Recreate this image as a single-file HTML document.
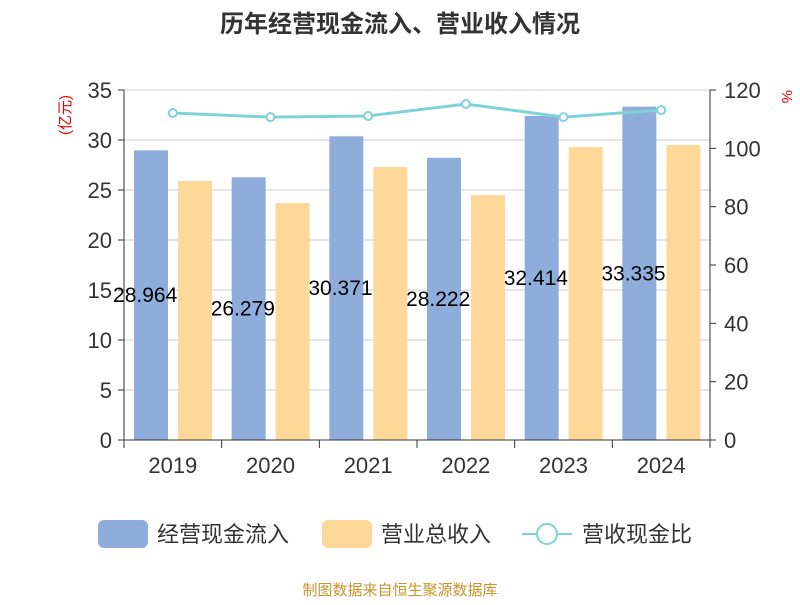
<!DOCTYPE html>
<html><head><meta charset="utf-8"><style>
body{margin:0;background:#fff;font-family:"Liberation Sans","Noto Sans CJK SC",sans-serif;}
</style></head><body>
<svg width="800" height="600" xmlns="http://www.w3.org/2000/svg" font-family="'Liberation Sans','Noto Sans CJK SC',sans-serif">
<text x="400" y="32" text-anchor="middle" font-size="24" font-weight="bold" fill="#333">历年经营现金流入、营业收入情况</text>
<text transform="translate(70,115) rotate(-90)" text-anchor="middle" font-size="15" fill="#e00">(亿元)</text>
<text transform="translate(782,90) rotate(90)" font-size="15" fill="#e00">%</text>
<g id="grid"></g><g id="bars1"></g><g id="labels"></g><g id="bars2"></g><g id="axes"></g><g id="line"></g>
<g>
<rect x="98" y="520" width="50" height="28" rx="6" fill="#8eaddb"/>
<text x="157" y="542" font-size="22" fill="#333">经营现金流入</text>
<rect x="322" y="520" width="50" height="28" rx="6" fill="#fed898"/>
<text x="381" y="542" font-size="22" fill="#333">营业总收入</text>
<line x1="522" y1="534" x2="572" y2="534" stroke="#7fd3d8" stroke-width="2"/>
<circle cx="547" cy="534" r="10" fill="#fff" stroke="#7fd3d8" stroke-width="2"/>
<text x="582" y="542" font-size="22" fill="#333">营收现金比</text>
</g>
<text x="400" y="595" text-anchor="middle" font-size="15" fill="#c8952a">制图数据来自恒生聚源数据库</text>
</svg>
<script>
const categories=["2019","2020","2021","2022","2023","2024"];
const cashInflow=[28.9641,26.2795,30.3712,28.2227,32.4145,33.3356];
const revenue=[25.9,23.7,27.3,24.5,29.3,29.5];
const ratio=[112.1,110.7,111.1,115.2,110.7,113.1];
const leftTicks=[0,5,10,15,20,25,30,35];
const rightTicks=[0,20,40,60,80,100,120];
const NS="http://www.w3.org/2000/svg";
const X0=124,X1=710,Y0=440,Y1=90;
const bw=(X1-X0)/categories.length;
const yL=v=>Y0-(v/35)*(Y0-Y1);
const yR=v=>Y0-(v/120)*(Y0-Y1);
function mk(t,a,p){const e=document.createElementNS(NS,t);for(const k in a)e.setAttribute(k,a[k]);document.getElementById(p).appendChild(e);return e;}
leftTicks.forEach(t=>{
 if(t>0){const g=mk('line',{x1:X0,x2:X1,y1:yL(t),y2:yL(t),stroke:'#ccc'},'grid');
 
 }
 const tl=mk('text',{x:X0-12,y:yL(t)+8,'text-anchor':'end','font-size':22,fill:'#333'},'axes');tl.textContent=t;
 
 
 mk('line',{x1:X0-6,x2:X0,y1:yL(t),y2:yL(t),stroke:'#333'},'axes');
});
rightTicks.forEach(t=>{
 const tl=mk('text',{x:X1+14,y:yR(t)+8,'font-size':22,fill:'#333'},'axes');tl.textContent=t;
 
 
 mk('line',{x1:X1,x2:X1+6,y1:yR(t),y2:yR(t),stroke:'#333'},'axes');
});
let ax=mk('line',{x1:X0,x2:X0,y1:Y1,y2:Y0,stroke:'#333'},'axes');


ax=mk('line',{x1:X1,x2:X1,y1:Y1,y2:Y0,stroke:'#333'},'axes');


ax=mk('line',{x1:X0,x2:X1,y1:Y0,y2:Y0,stroke:'#333'},'axes');


let pts=[];
categories.forEach((c,i)=>{
 const bx=X0+i*bw;
 mk('line',{x1:bx,x2:bx,y1:Y0,y2:Y0+8,stroke:'#333'},'axes');
 if(i==categories.length-1)mk('line',{x1:X1,x2:X1,y1:Y0,y2:Y0+8,stroke:'#333'},'axes');
 const b1=mk('rect',{x:bx+10,y:yL(cashInflow[i]),width:34,height:Y0-yL(cashInflow[i]),fill:'#8eaddb'},'bars1');
 
 
 const b2=mk('rect',{x:bx+54,y:yL(revenue[i]),width:34,height:Y0-yL(revenue[i]),fill:'#fed898'},'bars2');
 
 
 const lb=mk('text',{x:bx+27,y:(yL(cashInflow[i])+Y0)/2+7,'text-anchor':'middle','font-size':21,fill:'#000'},'labels');
 lb.textContent=cashInflow[i].toFixed(4);
 
 
 const xl=mk('text',{x:bx+bw/2,y:Y0+33,'text-anchor':'middle','font-size':22,fill:'#333'},'axes');xl.textContent=c;
 
 
 pts.push([bx+bw/2,yR(ratio[i])]);
});
const pl=mk('polyline',{points:pts.map(p=>p.join(',')).join(' '),fill:'none',stroke:'#7fd3d8','stroke-width':3},'line');


pts.forEach((p,i)=>{
 const c=mk('circle',{cx:p[0],cy:p[1],r:4,fill:'#fff',stroke:'#7fd3d8','stroke-width':2},'line');
 
 
});
</script>
</body></html>
